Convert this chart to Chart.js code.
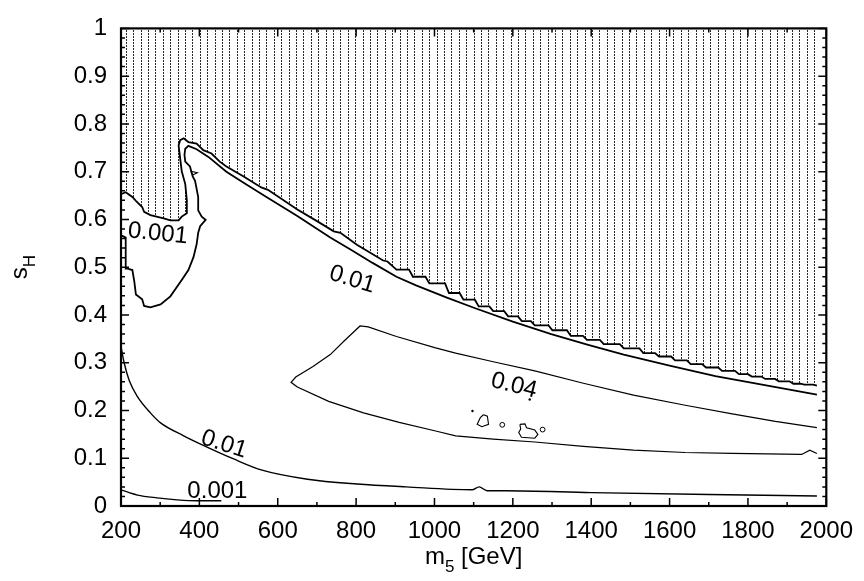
<!DOCTYPE html>
<html>
<head>
<meta charset="utf-8">
<script src="https://cdn.jsdelivr.net/npm/chart.js@4.4.1/dist/chart.umd.min.js"></script>
<style>
  html, body { margin: 0; padding: 0; background: #fff; }
  canvas { display: block; }
</style>
</head>
<body>
<canvas id="chart" width="864" height="581"></canvas>
<script>
// ─── Data ──────────────────────────────────────────────────────────────────────
const xTicks = [200, 400, 600, 800, 1000, 1200, 1400, 1600, 1800, 2000];
const yTicks = [0, 0.1, 0.2, 0.3, 0.4, 0.5, 0.6, 0.7, 0.8, 0.9, 1];

// edge of the hatched (excluded) region
const excludedEdge = [
  [200, 0.653], [212, 0.657], [229, 0.647], [238, 0.639], [254, 0.626], [259, 0.616],
  [275, 0.609], [309, 0.602], [326, 0.598], [347, 0.598], [355, 0.606], [368, 0.613],
  [368, 0.640], [364, 0.674], [355, 0.701], [351, 0.728], [347, 0.755], [351, 0.766],
  [360, 0.770], [372, 0.762], [393, 0.759], [410, 0.745], [431, 0.738], [452, 0.721],
  [469, 0.711], [513, 0.690], [558, 0.667], [575, 0.662], [650, 0.621], [697, 0.598],
  [743, 0.575], [760, 0.572], [802, 0.547], [869, 0.514], [880, 0.512],
  [903, 0.495], [935, 0.495], [945, 0.480], [977, 0.480], [987, 0.466], [1027, 0.466],
  [1037, 0.446], [1064, 0.446], [1074, 0.432], [1103, 0.432], [1113, 0.418], [1140, 0.418],
  [1150, 0.408], [1178, 0.408], [1188, 0.397], [1213, 0.397], [1223, 0.387], [1246, 0.387],
  [1256, 0.378], [1291, 0.378], [1301, 0.368], [1338, 0.368], [1348, 0.356], [1379, 0.356],
  [1389, 0.348], [1422, 0.348], [1432, 0.339], [1473, 0.339], [1483, 0.330], [1523, 0.330],
  [1533, 0.320], [1563, 0.320], [1573, 0.313], [1604, 0.313], [1614, 0.305], [1644, 0.305],
  [1654, 0.297], [1683, 0.297], [1693, 0.290], [1724, 0.290], [1734, 0.283], [1767, 0.283],
  [1777, 0.276], [1800, 0.276], [1810, 0.271], [1834, 0.271], [1844, 0.266], [1869, 0.266],
  [1879, 0.261], [1906, 0.261], [1916, 0.256], [1934, 0.256], [1944, 0.254], [1966, 0.254],
  [1976, 0.252]
];

// 0.001 lobe on the left running into the upper 0.01 contour
const upperContour = [
  [202, 0.566], [212, 0.562], [212, 0.497], [217, 0.497], [229, 0.494], [234, 0.470],
  [238, 0.443], [254, 0.433], [259, 0.419], [275, 0.416], [301, 0.422], [326, 0.439],
  [355, 0.473], [372, 0.494], [385, 0.521], [393, 0.548], [397, 0.572], [402, 0.586],
  [416, 0.599], [406, 0.606], [397, 0.619], [397, 0.647], [393, 0.664], [389, 0.681],
  [383, 0.690], [376, 0.711], [364, 0.721], [362, 0.735], [364, 0.748], [372, 0.754],
  [393, 0.747], [423, 0.731], [469, 0.700], [520, 0.673], [567, 0.649], [650, 0.607],
  [734, 0.562], [790, 0.535], [842, 0.509], [903, 0.480], [953, 0.462], [1030, 0.437],
  [1104, 0.414], [1200, 0.386], [1298, 0.360], [1390, 0.338], [1483, 0.317], [1600, 0.294],
  [1717, 0.272], [1850, 0.252], [1976, 0.233]
];

// 0.04 contour (upper branch right->left, then lower branch left->right)
const contour004 = [
  [1976, 0.164], [1870, 0.177], [1760, 0.193], [1640, 0.211], [1508, 0.232], [1380, 0.257],
  [1256, 0.283], [1150, 0.302], [1054, 0.320], [1003, 0.331], [903, 0.355], [831, 0.375],
  [810, 0.377], [770, 0.346], [734, 0.317], [690, 0.292], [646, 0.270], [634, 0.259],
  [650, 0.249], [730, 0.219], [819, 0.195], [910, 0.175], [1003, 0.157], [1054, 0.147],
  [1150, 0.140], [1256, 0.134], [1380, 0.125], [1508, 0.117], [1640, 0.112], [1760, 0.110],
  [1937, 0.108], [1958, 0.117], [1976, 0.110]
];

// lower 0.01 contour
const lower001 = [
  [200, 0.334], [208, 0.300], [221, 0.263], [242, 0.229], [275, 0.195], [301, 0.174],
  [360, 0.147], [410, 0.127], [486, 0.099], [560, 0.075], [676, 0.056], [802, 0.046],
  [928, 0.040], [1096, 0.034], [1114, 0.040], [1134, 0.032], [1180, 0.032], [1400, 0.028],
  [1700, 0.024], [1976, 0.021]
];

// lower 0.001 contour
const lower0001 = [
  [200, 0.034], [242, 0.023], [292, 0.017], [343, 0.013], [393, 0.011], [456, 0.011]
];

// small islands
const islandA = [[1125, 0.191], [1135, 0.188], [1138, 0.171], [1121, 0.166], [1109, 0.171], [1117, 0.185], [1125, 0.191]];
const islandB = [[1218, 0.171], [1231, 0.172], [1235, 0.164], [1256, 0.159], [1264, 0.150], [1256, 0.142], [1222, 0.144], [1215, 0.154], [1220, 0.161], [1218, 0.171]];
const islandTip = [[378, 0.701], [395, 0.698], [383, 0.693], [378, 0.701]];
const ringPoints = [[1173, 0.170], [1276, 0.160]];
const dotPoints = [[1097, 0.199], [1243, 0.223]];

const contourLabels = [
  { text: '0.001', x: 294, y: 0.570, angle: 6 },
  { text: '0.01', x: 790, y: 0.474, angle: 17 },
  { text: '0.04', x: 1203, y: 0.252, angle: 14 },
  { text: '0.01', x: 463, y: 0.129, angle: 18 },
  { text: '0.001', x: 446, y: 0.031, angle: 0 }
];

// ─── Helpers ───────────────────────────────────────────────────────────────────
const FONT = '"Liberation Sans", Arial, Helvetica, sans-serif';
const toXY = pts => pts.map(p => ({ x: p[0], y: p[1] }));

const canvas = document.getElementById('chart');
const ctx = canvas.getContext('2d');

// vertical dotted hatching
function makeHatch() {
  const tile = document.createElement('canvas');
  tile.width = 37; tile.height = 3;
  const g = tile.getContext('2d');
  g.fillStyle = '#2a2a2a';
  [0, 7, 15, 22, 30].forEach(x => g.fillRect(x, 0, 1, 2));
  return ctx.createPattern(tile, 'repeat');
}

const curve = (pts, width, smooth) => ({
  data: toXY(pts),
  borderColor: '#000',
  borderWidth: width,
  pointRadius: 0,
  fill: false,
  tension: 0,
  cubicInterpolationMode: smooth ? 'monotone' : 'default'
});

// ─── Plugins ───────────────────────────────────────────────────────────────────
const frameTicks = {
  id: 'frameTicks',
  afterDraw(chart) {
    const { ctx, chartArea: a, scales: { x, y } } = chart;
    ctx.save();
    ctx.strokeStyle = '#000';
    ctx.lineWidth = 1.5;
    ctx.beginPath();
    for (let v = 200; v <= 2000; v += 100) {
      const px = x.getPixelForValue(v);
      const len = v % 200 === 0 ? 8 : 4;
      ctx.moveTo(px, a.bottom); ctx.lineTo(px, a.bottom - len);
      ctx.moveTo(px, a.top); ctx.lineTo(px, a.top + len);
    }
    for (let i = 0; i <= 50; i++) {
      const py = y.getPixelForValue(i / 50);
      const len = i % 5 === 0 ? 8 : 4;
      ctx.moveTo(a.left, py); ctx.lineTo(a.left + len, py);
      ctx.moveTo(a.right, py); ctx.lineTo(a.right - len, py);
    }
    ctx.stroke();
    ctx.lineWidth = 2.2;
    ctx.strokeRect(a.left, a.top, a.right - a.left, a.bottom - a.top);
    ctx.restore();
  }
};

const textLayer = {
  id: 'textLayer',
  afterDraw(chart) {
    const { ctx, chartArea: a, scales: { x, y } } = chart;
    ctx.save();
    ctx.fillStyle = '#000';

    // contour labels
    ctx.font = '24px ' + FONT;
    ctx.textAlign = 'center';
    ctx.textBaseline = 'middle';
    contourLabels.forEach(l => {
      ctx.save();
      ctx.translate(x.getPixelForValue(l.x), y.getPixelForValue(l.y));
      ctx.rotate(l.angle * Math.PI / 180);
      ctx.fillText(l.text, 0, 0);
      ctx.restore();
    });

    // axis titles with subscripts
    const drawSub = (main, sub, rest, cx, cy, rot) => {
      ctx.save();
      ctx.translate(cx, cy);
      ctx.rotate(rot);
      ctx.textAlign = 'left';
      ctx.textBaseline = 'alphabetic';
      const big = '24px ' + FONT, small = '17px ' + FONT;
      ctx.font = big; const w1 = ctx.measureText(main).width;
      const w3 = rest ? ctx.measureText(rest).width : 0;
      ctx.font = small; const w2 = ctx.measureText(sub).width;
      let px = -(w1 + w2 + w3) / 2;
      ctx.font = big; ctx.fillText(main, px, 0); px += w1;
      ctx.font = small; ctx.fillText(sub, px, 8); px += w2;
      if (rest) { ctx.font = big; ctx.fillText(rest, px, 0); }
      ctx.restore();
    };
    drawSub('m', '5', ' [GeV]', (a.left + a.right) / 2, 564, 0);
    drawSub('s', 'H', '', 27, (a.top + a.bottom) / 2, -Math.PI / 2);
    ctx.restore();
  }
};

// ─── Chart ─────────────────────────────────────────────────────────────────────
new Chart(ctx, {
  type: 'line',
  data: {
    datasets: [
      {
        data: toXY(excludedEdge),
        borderColor: '#000',
        borderWidth: 1.8,
        pointRadius: 0,
        tension: 0,
        fill: 'end',
        backgroundColor: makeHatch()
      },
      curve(upperContour, 1.8, false),
      curve(contour004, 1.2, false),
      curve(lower001, 1.4, true),
      curve(lower0001, 1.3, true),
      curve(islandA, 1.1, false),
      curve(islandB, 1.1, false),
      curve(islandTip, 1.1, false),
      {
        data: toXY(ringPoints),
        showLine: false,
        pointRadius: 2.4,
        pointBorderWidth: 1,
        pointBorderColor: '#000',
        pointBackgroundColor: '#fff'
      },
      {
        data: toXY(dotPoints),
        showLine: false,
        pointRadius: 1.2,
        pointBorderWidth: 0,
        pointBackgroundColor: '#000'
      }
    ]
  },
  options: {
    responsive: false,
    devicePixelRatio: 1,
    animation: false,
    layout: { padding: { top: 15, right: 31, left: 0, bottom: 0 } },
    plugins: { legend: { display: false }, tooltip: { enabled: false } },
    scales: {
      x: {
        type: 'linear',
        min: 200,
        max: 2000,
        grid: { display: false, drawTicks: false },
        border: { display: false },
        afterBuildTicks: s => { s.ticks = xTicks.map(v => ({ value: v })); },
        afterFit: s => { s.height = 75; },
        ticks: {
          color: '#000',
          font: { family: FONT, size: 24 },
          padding: 11,
          maxRotation: 0,
          autoSkip: false,
          callback: v => String(v)
        }
      },
      y: {
        type: 'linear',
        min: 0,
        max: 1,
        grid: { display: false, drawTicks: false },
        border: { display: false },
        afterBuildTicks: s => { s.ticks = yTicks.map(v => ({ value: v })); },
        afterFit: s => { s.width = 121; },
        ticks: {
          color: '#000',
          font: { family: FONT, size: 24 },
          padding: 14,
          autoSkip: false,
          callback: v => String(+v.toFixed(1))
        }
      }
    }
  },
  plugins: [frameTicks, textLayer]
});
</script>
</body>
</html>
